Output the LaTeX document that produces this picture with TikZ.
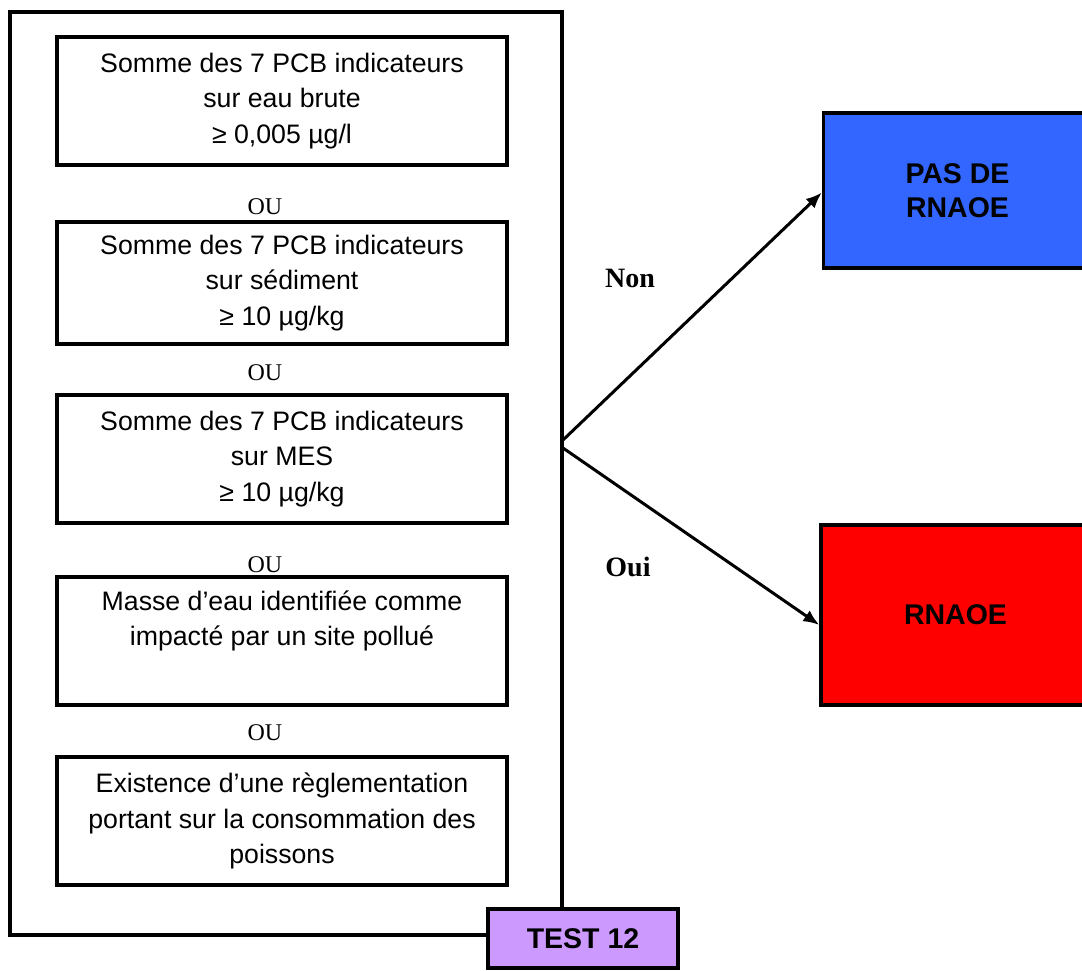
\documentclass[tikz,border=0pt]{standalone}
\usepackage{fontspec}
\setmainfont{Liberation Serif}
\setsansfont{Liberation Sans}
\usetikzlibrary{calc,arrows.meta}
\definecolor{boxblue}{HTML}{3366FF}
\definecolor{boxred}{HTML}{FF0000}
\definecolor{boxpurple}{HTML}{CC99FF}
\begin{document}
\begin{tikzpicture}[x=0.5pt,y=-0.5pt,
  frame/.style={draw, line width=2pt, minimum width=276pt, minimum height=461.5pt, inner sep=0pt},
  crit/.style={draw, line width=1.65pt, minimum width=225pt, minimum height=64pt, align=center, inner sep=0pt,
    font=\sffamily\fontsize{13.35}{17.75}\selectfont},
  ou/.style={inner sep=0pt, font=\rmfamily\fontsize{12}{14}\selectfont},
  result/.style={draw, line width=1.65pt, align=center, inner sep=0pt,
    font=\sffamily\bfseries\fontsize{14.25}{17}\selectfont},
  answer/.style={inner sep=0pt, font=\rmfamily\bfseries\fontsize{14}{16}\selectfont},
  arrow/.style={line width=1.5pt, -{Latex[length=8pt,width=6.5pt]}}]
\clip (0,0) rectangle (1082,970);
\fill[white] (0,0) rectangle (1082,970);

% outer frame holding the criteria
\node[frame] (outer) at (286,473.5) {};

% criteria
\node[crit] (c1) at (282,101) {Somme des 7 PCB indicateurs\\sur eau brute\\≥ 0,005 µg/l};
\node[ou] (ou1) at (265,207) {OU};
\node[crit, minimum height=61pt] (c2) at (282,283) {Somme des 7 PCB indicateurs\\sur sédiment\\≥ 10 µg/kg};
\node[ou] (ou2) at (265,373) {OU};
\node[crit] (c3) at (282,459) {Somme des 7 PCB indicateurs\\sur MES\\≥ 10 µg/kg};
\node[ou] (ou3) at (265,565) {OU};
\node[crit] (c4) at (282,641) {Masse d’eau identifiée comme\\impacté par un site pollué\\\strut};
\node[ou] (ou4) at (265,733) {OU};
\node[crit] (c5) at (282,821) {Existence d’une règlementation\\portant sur la consommation des\\poissons};

% test label
\node[result, fill=boxpurple, minimum width=95pt, minimum height=29.5pt] (test) at (583,938.5) {TEST 12};

% outcomes
\node[result, fill=boxblue, minimum width=134pt, minimum height=77.5pt] (pas) at (957.5,190.5) {PAS DE\\RNAOE};
\node[result, fill=boxred, minimum width=134.5pt, minimum height=90pt] (rnaoe) at (955.5,615) {RNAOE};

% decision branches
\coordinate (jn) at (563,440);
\coordinate (jo) at (563,448);
\draw[arrow] (jn) -- ($(pas.west)+(0,2)$);
\draw[arrow] (jo) -- ($(rnaoe.west)+(0,10)$);
\node[answer] (non) at (630,278) {Non};
\node[answer] (oui) at (628,567) {Oui};
\end{tikzpicture}
\end{document}
